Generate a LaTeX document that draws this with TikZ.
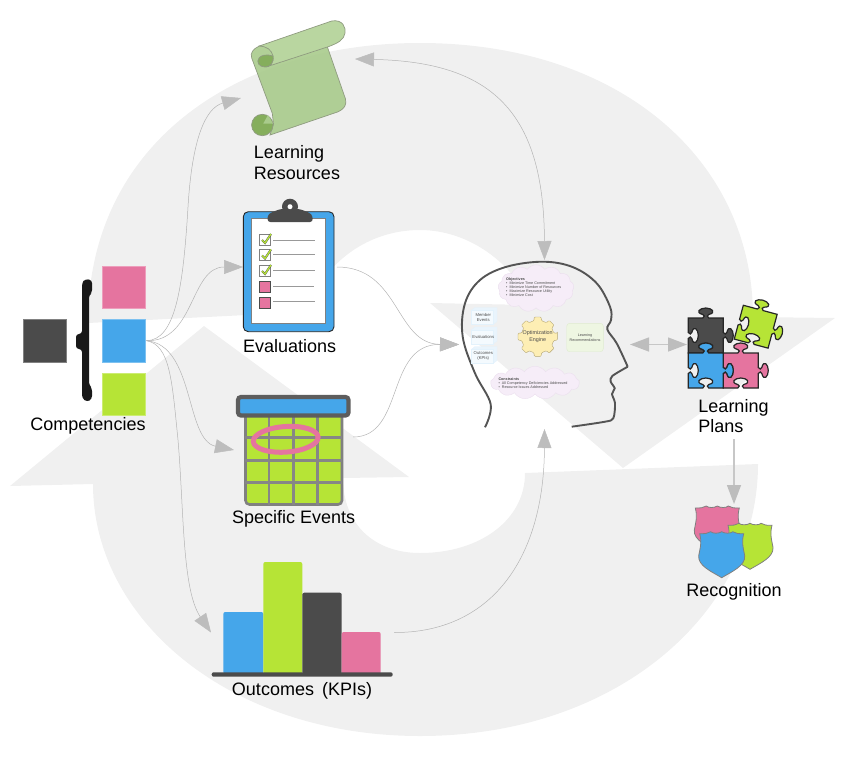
\documentclass[tikz,border=0pt]{standalone}
\usepackage{fontspec}
\setmainfont{Liberation Sans}
\usetikzlibrary{arrows.meta,shapes.symbols}
\definecolor{bandgray}{HTML}{F0F0F0}
\definecolor{linkgray}{HTML}{B4B4B4}
\definecolor{tipgray}{HTML}{BDBDBD}
\definecolor{pinkcolor}{HTML}{E5749F}
\definecolor{bluecolor}{HTML}{45A6EA}
\definecolor{limecolor}{HTML}{B6E436}
\definecolor{darkcolor}{HTML}{4B4B4B}
\definecolor{scrollbody}{HTML}{A9CB8C}
\definecolor{scrollroll}{HTML}{B9D6A0}
\definecolor{scrollcurl}{HTML}{85AE5C}
\definecolor{scrolledge}{HTML}{8F9B80}
\definecolor{cloudlilac}{HTML}{F6EDF8}
\definecolor{cloudedge}{HTML}{EBDFEE}
\definecolor{gearfill}{HTML}{FDEEB4}
\definecolor{gearedge}{HTML}{B5A775}
\definecolor{recofill}{HTML}{EEF6E2}
\definecolor{recoedge}{HTML}{DFEBD0}
\tikzset{
  squarebox/.style={minimum size=42.6pt,inner sep=0pt,outer sep=1.5pt,line width=.4pt},
  iconbox/.style={inner sep=0pt,outer sep=0pt},
  labeltext/.style={inner sep=0pt,align=left,font=\fontsize{18}{20.8}\selectfont},
  link/.style={draw=linkgray,line width=.5pt},
  heavylink/.style={draw=tipgray!85,line width=1.4pt},
  tickmark/.style={draw=darkcolor,double=limecolor,double distance=1.3pt,line width=.35pt},
  checkbox/.style={draw=gray,fill=white,line width=.7pt},
  pinkcheck/.style={draw=darkcolor,fill=pinkcolor,line width=.5pt},
  ruled/.style={draw=gray!80,line width=1pt},
  gridline/.style={draw=gray!95,line width=2.6pt},
  headline/.style={draw=darkcolor!95,line width=1.9pt},
  scrollline/.style={draw=scrolledge,line width=.7pt},
  thought/.style={cloud,cloud puffs=13,cloud puff arc=110,aspect=2,inner sep=0pt,draw=cloudedge,fill=cloudlilac,line width=.4pt},
  tinytext/.style={inner sep=0pt,align=left,text=darkcolor,font=\fontsize{3.7}{4}\selectfont},
  smalltext/.style={inner sep=0pt,align=center,text=darkcolor,font=\fontsize{4.2}{5}\selectfont},
  puzzlepiece/.pic={
    \path[pic actions,line width=1.2pt,draw=black!85]
      (-17.5,-17.5) -- (-3,-17.5) .. controls (-1,-19) and (-1,-20) .. (-3,-21)
      .. controls (-11,-23) and (-6,-27.5) .. (0,-27.5) .. controls (6,-27.5) and (11,-23) .. (3,-21)
      .. controls (1,-20) and (1,-19) .. (3,-17.5) -- (17.5,-17.5) -- (17.5,-3)
      .. controls (19,-1) and (20,-1) .. (21,-3) .. controls (23,-11) and (27.5,-6) .. (27.5,0)
      .. controls (27.5,6) and (23,11) .. (21,3) .. controls (20,1) and (19,1) .. (17.5,3)
      -- (17.5,17.5) -- (3,17.5) .. controls (1,16) and (1,15) .. (3,14)
      .. controls (11,12) and (6,7.5) .. (0,7.5) .. controls (-6,7.5) and (-11,12) .. (-3,14)
      .. controls (-1,15) and (-1,16) .. (-3,17.5) -- (-17.5,17.5) -- (-17.5,3)
      .. controls (-16,1) and (-15,1) .. (-14,3) .. controls (-12,11) and (-7.5,6) .. (-7.5,0)
      .. controls (-7.5,-6) and (-12,-11) .. (-14,-3) .. controls (-15,-1) and (-16,-1) .. (-17.5,-3) -- cycle;
  },
  shieldicon/.pic={
    \path[pic actions,line width=.8pt,draw=gray]
      (-22,2) .. controls (-17,2) and (-14,2) .. (-11,0) .. controls (-9,2) and (-3,2) .. (0,0)
      .. controls (3,2) and (9,2) .. (11,0) .. controls (14,2) and (17,2) .. (22,2)
      .. controls (20,10) and (21,14) .. (23,24) .. controls (24,34) and (10,40) .. (0,46)
      .. controls (-10,40) and (-24,34) .. (-23,24) .. controls (-21,14) and (-20,10) .. (-22,2) -- cycle;
  },
  eventcube/.pic={
    \draw[draw=bluecolor!15,fill=bluecolor!12,line width=.3pt] (-12,-7) -- (-8,-10) -- (14,-10) -- (14,4) -- (10,7) -- cycle;
    \draw[draw=bluecolor!15,fill=bluecolor!6,line width=.3pt] (-12,-7) rectangle (10,7);
  }
}
\begin{document}
\begin{tikzpicture}[x=1pt,y=-1pt,>={Triangle[length=19pt,width=14pt,color=tipgray]}]
\useasboundingbox (0,0) rectangle (843,777);
\fill[bandgray] (88,323) .. controls (88,145) and (235,43) .. (420,43) .. controls (620,43) and (753,160) .. (753,317) -- (835,318) -- (623,468) -- (430,303) -- (530,305) .. controls (515,265) and (470,230) .. (420,230) .. controls (370,230) and (325,260) .. (306,312) -- cycle;
\fill[bandgray] (758,464) .. controls (758,610) and (620,736) .. (420,736) .. controls (230,736) and (93,620) .. (93,484) -- (10,486) -- (204,326) -- (409,477) -- (343,478) .. controls (343,525) and (375,553) .. (420,553) .. controls (480,553) and (525,520) .. (525,473) -- cycle;

\node[squarebox,fill=darkcolor,draw=darkcolor!70!white] (darkbox) at (44.7,340.7) {};
\node[squarebox,fill=pinkcolor,draw=pinkcolor!70!white] (pinkbox) at (123.7,287.3) {};
\node[squarebox,fill=bluecolor,draw=bluecolor!70!white] (bluebox) at (123.7,340.7) {};
\node[squarebox,fill=limecolor,draw=limecolor!70!white] (limebox) at (123.7,394.2) {};
\node[labeltext] (competencies) at (88,425.5) {Competencies};
\fill[black!90,rounded corners=3pt] (82,283) -- (85,279) -- (92,280) -- (92,293) -- (89,295) -- (89,385) -- (92,388) -- (92,399) -- (87,402) -- (82,398) -- (82,349) -- (76,349) -- (76,334) -- (82,334) -- cycle;

\node[iconbox,minimum width=114pt,minimum height=39pt] (scrollicon) at (298,78.5) {};
\node[iconbox,minimum width=94pt,minimum height=130pt] (clipboard) at (290,267) {};
\node[iconbox,minimum width=119pt,minimum height=110pt] (calendar) at (293.5,450) {};
\node[iconbox,minimum width=183pt,minimum height=115pt] (kpibars) at (302.5,632.5) {};
\node[iconbox,minimum width=171pt,minimum height=169pt] (brain) at (544.5,344.5) {};
\node[iconbox,minimum width=96pt,minimum height=80pt] (puzzle) at (735,344.5) {};
\node[iconbox,minimum width=90pt,minimum height=70pt] (recognition) at (734,539) {};

\draw[link,->] (bluebox.east) .. controls (175,340) and (183,290) .. (188,207) .. controls (192,140) and (205,108) .. (scrollicon.south west);
\draw[link,->] (bluebox.east) .. controls (195,342) and (190,267) .. (clipboard.west);
\draw[link,->] (bluebox.east) .. controls (195,345) and (185,440) .. (calendar.west);
\draw[link,->] (bluebox.east) .. controls (170,345) and (172,380) .. (178,440) .. controls (184,510) and (182,590) .. (kpibars.west);
\draw[link,->] (clipboard.east) .. controls (400,267) and (395,344) .. (brain.west);
\draw[link,->] ([yshift=13pt]calendar.east) .. controls (405,437) and (385,344) .. (brain.west);
\draw[link,->] (kpibars.east) .. controls (490,633) and (544,560) .. (brain.south);
\draw[link,<->] (scrollicon.north east) .. controls (490,62) and (544,110) .. (brain.north);
\draw[heavylink,<->] (brain.east) -- (puzzle.west);

\draw[scrollline,fill=scrollbody,fill opacity=.9] (259.3,46) .. controls (253,49) and (250,53) .. (251.7,58) -- (272.3,113.3) -- (273.5,124) -- (270,135) -- (338.3,111.7) .. controls (344,109) and (347,105) .. (345.5,99) -- (327.3,46.7) -- cycle;
\draw[scrollline,fill=scrollroll] (259.3,46) -- (331.7,21) .. controls (343,19) and (346,28) .. (345,33) .. controls (344,40) and (338,43) .. (328.3,46.7) -- (266,67) .. controls (270,67) and (274,63) .. (273,56) .. controls (272,50) and (266,46) .. (259.3,46) -- cycle;
\draw[scrollline,fill=scrollcurl] (273,56) .. controls (274,63) and (270,67) .. (265,67) .. controls (259,67) and (256,62) .. (259,58) .. controls (261,55) and (267,54) .. (273,56) -- cycle;
\draw[scrollline,fill=scrollcurl] (262.3,125) circle (10.7);
\fill[scrollbody] (263.3,123.5) -- (273,123.5) -- (268,115) -- cycle;
\node[labeltext] (resources) at (297,162.5) {Learning\\Resources};

\draw[draw=black!85,fill=bluecolor,line width=.9pt,rounded corners=5pt] (243.3,211.7) rectangle (334,331.7);
\draw[draw=gray,fill=white,line width=.7pt] (251,218.3) rectangle (325.7,323.3);
\fill[darkcolor] (290,206.7) circle (8);
\fill[darkcolor,rounded corners=3pt] (267.3,222) -- (268,214) -- (280,209) -- (300,209) -- (312,214) -- (313,222) -- cycle;
\fill[white] (290,206.7) circle (2.5);
\draw[checkbox] (259,234) rectangle (270,245);
\draw[checkbox] (259,249.3) rectangle (270,260.3);
\draw[checkbox] (259,265) rectangle (270,276);
\draw[pinkcheck] (259,281) rectangle (270,292);
\draw[pinkcheck] (259,297) rectangle (270,308);
\draw[tickmark] (262,240) -- (265,243) -- (271,234);
\draw[tickmark] (262,255.5) -- (265,258.5) -- (271,249.5);
\draw[tickmark] (262,271) -- (265,274) -- (271,265);
\draw[ruled] (273,240) -- (315,240);
\draw[ruled] (273,254) -- (315,254);
\draw[ruled] (273,270) -- (315,270);
\draw[ruled] (273,286) -- (314,286);
\draw[ruled] (273,301.5) -- (315,301.5);
\node[labeltext] (evaluations) at (289.7,346) {Evaluations};

\draw[draw=gray,fill=limecolor,line width=2.6pt,rounded corners=4pt] (245.5,410) rectangle (342,504.5);
\draw[gridline] (269,417) -- (269,505);
\draw[gridline] (293.3,417) -- (293.3,505);
\draw[gridline] (317.7,417) -- (317.7,505);
\draw[gridline] (245,437.7) -- (342,437.7);
\draw[gridline] (245,460.7) -- (342,460.7);
\draw[gridline] (245,482.7) -- (342,482.7);
\draw[draw=darkcolor!90,fill=bluecolor,line width=4.2pt,rounded corners=3pt] (238,397) rectangle (348.5,415.5);
\draw[pinkcolor,line width=5pt,rotate around={4:(285.7,439.3)}] (285.7,439.3) ellipse (32.5 and 12.8);
\node[labeltext] (events) at (293.7,518.5) {Specific Events};

\fill[bluecolor,rounded corners=2pt] (223.3,674) -- (223.3,612) -- (263.3,612) -- (263.3,674) -- cycle;
\fill[limecolor,rounded corners=2pt] (263.3,674) -- (263.3,562) -- (302.3,562) -- (302.3,674) -- cycle;
\fill[darkcolor,rounded corners=2pt] (302.3,674) -- (302.3,592.7) -- (341.7,592.7) -- (341.7,674) -- cycle;
\fill[pinkcolor,rounded corners=2pt] (341.7,674) -- (341.7,632) -- (380.7,632) -- (380.7,674) -- cycle;
\fill[darkcolor,rounded corners=2pt] (211.7,672.3) rectangle (392.7,676.7);
\node[labeltext] (outcomes) at (302,690.5) {Outcomes\hspace{3pt} (KPIs)};

\draw[headline] plot[smooth,tension=.6] coordinates {(485,427.3) (490.7,404.3) (475,373.3) (462.7,336.7) (465,303.3) (480,280) (506.7,266.7) (543.3,261.7) (573.3,267.3) (596.7,283.3) (610,306.7) (611,320) (607.3,329.3) (616.7,343.3) (627.7,366.7)};
\draw[headline] plot[smooth,tension=.5] coordinates {(627.7,366.7) (612.3,376) (610.7,381.7) (614.7,388.3) (612,394) (615,403.3) (613.3,418.3) (605,421.7) (571.7,426.7)};

\node[thought,minimum width=76pt,minimum height=47pt] (objectives) at (536,288.3) {};
\node[tinytext,anchor=west] (objectivestext) at (506,287.5) {\textbf{Objectives}\\\textbullet\ \ Minimize Time Commitment\\\textbullet\ \ Minimize Number of Resources\\\textbullet\ \ Maximize Resource Utility\\\textbullet\ \ Minimize Cost};
\node[thought,minimum width=89pt,minimum height=33pt] (constraints) at (535,382.7) {};
\node[tinytext,anchor=west] (constraintstext) at (498.3,382.7) {\textbf{Constraints}\\\textbullet\ \ All Competency Deficiencies Addressed\\\textbullet\ \ Resource Issues Addressed};
\pic at (483,317.5) {eventcube};
\pic at (483,337) {eventcube};
\pic at (483,356.5) {eventcube};
\node[smalltext] (memberevents) at (483.3,317.3) {Member\\Events};
\node[smalltext] (evaluationsmall) at (483.3,336.7) {Evaluations};
\node[smalltext] (outcomesmall) at (483.3,356.3) {Outcomes\\(KPIs)};
\draw[draw=gearedge,fill=gearfill,line width=.4pt,rounded corners=1pt,shift={(537.7,336.7)}] (350:20) \foreach \a in {0,45,...,315} { -- ({\a+10}:20) -- ({\a+13}:16.5) -- ({\a+32}:16.5) -- ({\a+35}:20) } -- cycle;
\node[inner sep=0pt,align=center,text=darkcolor,font=\fontsize{5.4}{6.3}\selectfont] (engine) at (537.7,336.7) {Optimization\\Engine};
\node[draw=recoedge,fill=recofill,rounded corners=3pt,line width=.4pt,minimum width=36.6pt,minimum height=28.4pt,inner sep=0pt,align=center,text=darkcolor,font=\fontsize{3.7}{4.4}\selectfont] (recommendations) at (585,337.5) {Learning\\Recommendations};

\pic[fill=darkcolor] at (705.8,335.5) {puzzlepiece};
\pic[fill=pinkcolor] at (740.8,370.5) {puzzlepiece};
\pic[fill=bluecolor] at (705.8,370.5) {puzzlepiece};
\pic[fill=limecolor,rotate=-15] at (755.7,326.7) {puzzlepiece};
\node[labeltext] (plans) at (733.5,416) {Learning\\Plans};

\pic[fill=pinkcolor] at (717.3,506) {shieldicon};
\pic[fill=limecolor] at (750,523.3) {shieldicon};
\pic[fill=bluecolor] at (721.7,531.7) {shieldicon};
\node[labeltext] (recognitionlabel) at (734,591.5) {Recognition};
\draw[heavylink,->] ([yshift=-6pt]plans.south -| recognition.north) -- (recognition.north);
\end{tikzpicture}
\end{document}
